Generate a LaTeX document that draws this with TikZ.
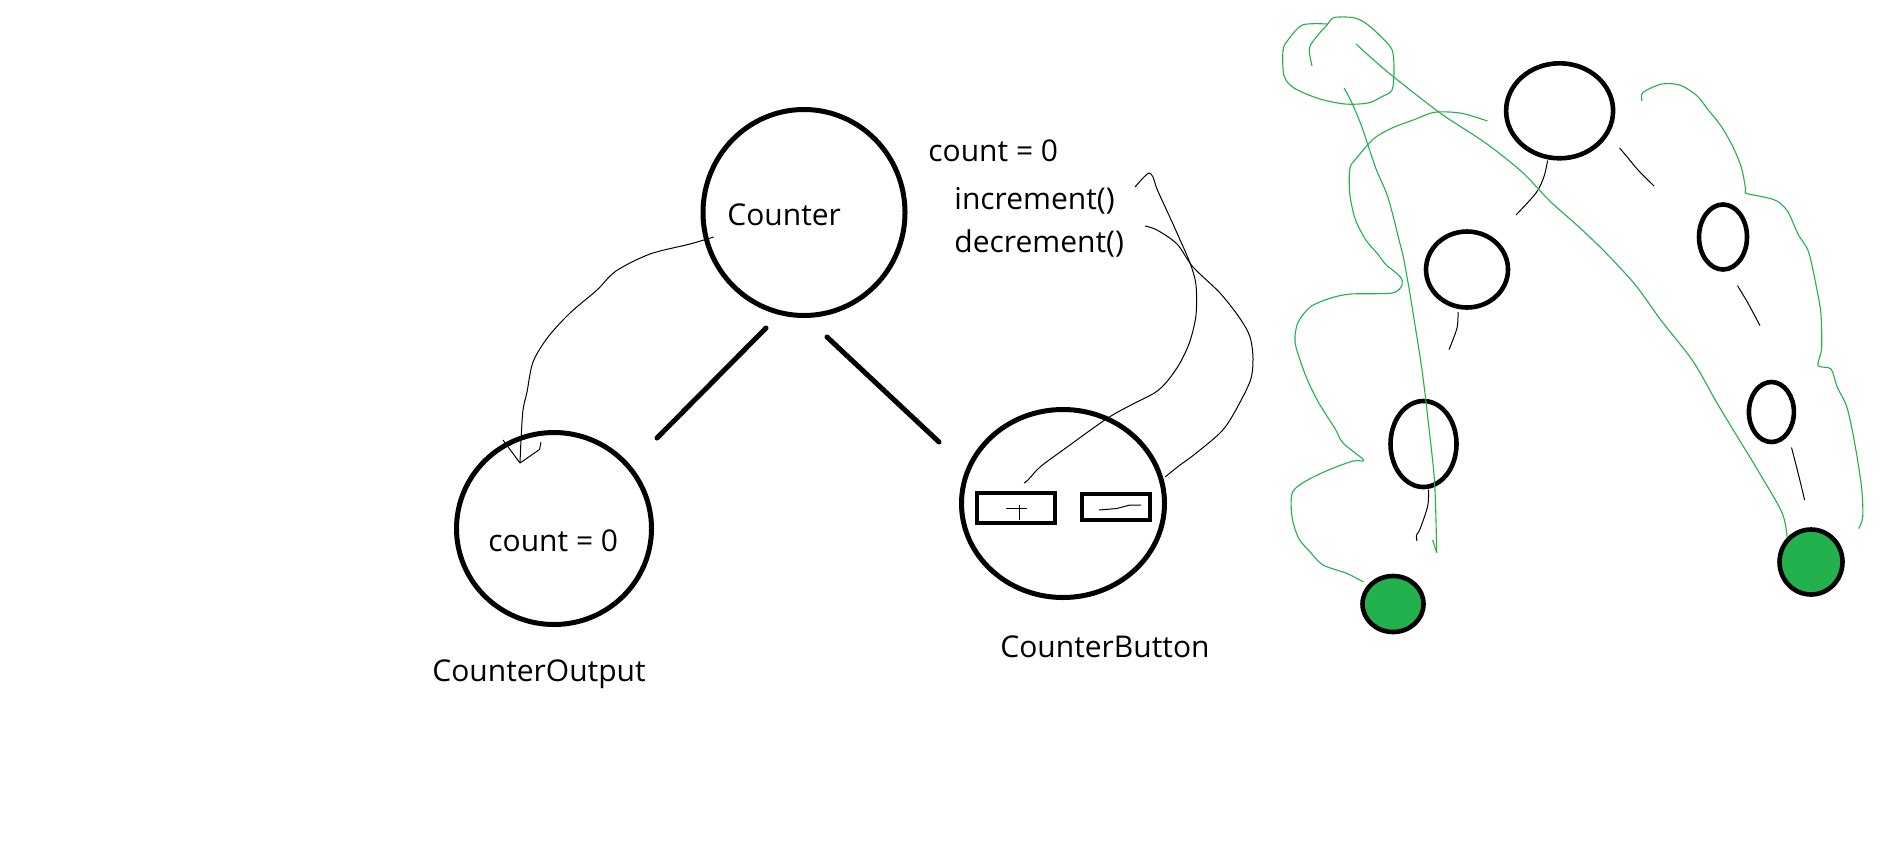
\documentclass[tikz,border=0pt]{standalone}
\usepackage{fontspec}
\setmainfont{Open Sans}
\usetikzlibrary{shapes.geometric}
\definecolor{pgreen}{HTML}{22B14C}
\begin{document}
\begin{tikzpicture}[x=0.5pt,y=-0.5pt,
  bigc/.style={draw, ellipse, line width=2.5pt, inner sep=0pt},
  smallc/.style={draw, ellipse, line width=2.3pt, inner sep=0pt},
  gdot/.style={draw, ellipse, line width=2.3pt, fill=pgreen, inner sep=0pt},
  btn/.style={draw, rectangle, line width=2pt, inner sep=0pt},
  thickline/.style={line width=2.5pt, line cap=round},
  thinline/.style={line width=0.5pt, line join=round},
  gline/.style={draw=pgreen, line width=0.55pt, line join=round},
  lbl/.style={anchor=base west, inner sep=0pt, font=\fontsize{15pt}{18pt}\selectfont}]
\useasboundingbox[fill=white] (0,0) rectangle (1904,863);

% ---- left tree ----
\node[bigc, minimum width=101pt, minimum height=103pt] (counter) at (804,212.5) {};
\node[lbl] (counterlbl) at (727,225) {Counter};
\node[bigc, minimum width=97.5pt, minimum height=96pt] (output) at (554,528.5) {};
\node[lbl] (outputval) at (488,551) {count = 0};
\node[lbl] (outputlbl) at (432,681) {CounterOutput};
\node[bigc, minimum width=101.5pt, minimum height=94pt] (button) at (1063,503.5) {};
\node[lbl] (buttonlbl) at (1000,657) {CounterButton};

\node[lbl] (cnt) at (928,161) {count = 0};
\node[lbl] (inc) at (954,209) {increment()};
\node[lbl] (dec) at (954,252) {decrement()};

\node[btn, minimum width=39pt, minimum height=15pt] (plusbtn) at (1016,508) {};
\node[btn, minimum width=34pt, minimum height=13pt] (minusbtn) at (1116,507) {};

\coordinate (l1a) at (766,328); \coordinate (l1b) at (657,438);
\coordinate (r1a) at (827,337); \coordinate (r1b) at (939,442);
\draw[thickline] (l1a) -- (l1b);
\draw[thickline] (r1a) -- (r1b);

% plus and minus marks
\coordinate (p1) at (1006,508.5); \coordinate (p2) at (1027,508.5);
\coordinate (p3) at (1019,504.5); \coordinate (p4) at (1019,520);
\draw[thinline] (p1) -- (p2);
\draw[thinline] (p3) -- (p4);
\coordinate (m1) at (1099,510); \coordinate (m2) at (1141,505);
\draw[thinline] (m1) -- (1116.7,508.5) -- (1130,505) -- (m2);

% curve counter -> output with arrow
\coordinate (a0) at (713.6,237);
\coordinate (a1) at (520,463);
\draw[thinline] plot[smooth, tension=0.5] coordinates {(a0) (690,244) (650,254) (616,271) (597,290) (570,313) (548,337) (533,362) (527,392) (523,410) (521,440) (a1)};
\coordinate (ah1) at (503,440); \coordinate (ah2) at (541,442);
\draw[thinline] (ah1) -- (a1) -- (539.5,449.5) -- (ah2);

% increment -> plus button
\coordinate (b0) at (1135,187);
\coordinate (b1) at (1024,483);
\draw[thinline] plot[smooth, tension=0.5] coordinates {(b0) (1143,178) (1149,173) (1153,177) (1157,189) (1167,211) (1177,233) (1190,263) (1196,285) (1196,315) (1190,341) (1180,363) (1167,381.5) (1155,392.6) (1133,404) (1107,418.5) (1063,450) (1040,467) (1028,480) (b1)};

% decrement -> button edge
\coordinate (c0) at (1145,226);
\coordinate (c1) at (1165,477);
\draw[thinline] plot[smooth, tension=0.5] coordinates {(c0) (1157,230) (1177,244) (1193,267) (1220,293) (1240,318.5) (1250,337) (1253,359) (1250,381.5) (1233,415) (1220,433) (1193,455.6) (1180,465) (c1)};

% ---- right tree ----
\node[smallc, minimum width=53.5pt, minimum height=47.5pt] (t0) at (1559.6,110.8) {};
\node[smallc, minimum width=41pt, minimum height=38pt] (t1) at (1467,269.5) {};
\node[smallc, minimum width=33pt, minimum height=43pt] (t2) at (1423.5,444) {};
\node[smallc, minimum width=24pt, minimum height=32.5pt] (t3) at (1723,237) {};
\node[smallc, minimum width=22.5pt, minimum height=30pt] (t4) at (1771.4,412) {};
\node[gdot, minimum width=30.5pt, minimum height=28pt] (g1) at (1393,604) {};
\node[gdot, minimum width=31.5pt, minimum height=32.5pt] (g2) at (1811,562) {};

% black short strokes
\coordinate (s1a) at (1547.6,160.5); \coordinate (s1b) at (1516,215);
\draw[thinline] plot[smooth] coordinates {(s1a) (1544,176.5) (1536,193) (s1b)};
\coordinate (s2a) at (1619.6,148); \coordinate (s2b) at (1654,186);
\draw[thinline] plot[smooth] coordinates {(s2a) (1627.7,157.6) (1638,170) (s2b)};
\coordinate (s3a) at (1458,312); \coordinate (s3b) at (1449,349.6);
\draw[thinline] plot[smooth] coordinates {(s3a) (1457,328) (s3b)};
\coordinate (s4a) at (1428.5,489.5); \coordinate (s4b) at (1417,541);
\draw[thinline] plot[smooth] coordinates {(s4a) (1427.7,506) (1420,529) (1416.5,535) (s4b)};
\coordinate (s5a) at (1737.5,285.7); \coordinate (s5b) at (1760,325.6);
\draw[thinline] plot[smooth] coordinates {(s5a) (1747.6,302.5) (s5b)};
\coordinate (s6a) at (1791.5,447.5); \coordinate (s6b) at (1804.6,500);
\draw[thinline] plot[smooth] coordinates {(s6a) (1798.5,474.8) (s6b)};

% green strokes
\coordinate (gl0) at (1312,66);
\draw[gline] plot[smooth, tension=0.5] coordinates {(gl0) (1309.4,48) (1318,35) (1327,25) (1334,17.6) (1353,17.6) (1365.5,23) (1380,35.7) (1392,49.6) (1394,70.6) (1392,90) (1382,96.6) (1368,103) (1345,104) (1319,98.7) (1294,88) (1284,75.6) (1283,50.4) (1288,40) (1302.5,25) (1327,24)};

\coordinate (gv0) at (1344,88); \coordinate (gv1) at (1436.7,552.5);
\draw[gline] plot[smooth, tension=0.5] coordinates {(gv0) (1351,101) (1361.5,126) (1375.7,168) (1388,197.5) (1400,243.7) (1404,260.5) (1410,294) (1414,319) (1422,370) (1428.5,424) (1434.6,483) (gv1)};
\draw[gline] (gv1) -- (1432.6,540);

\coordinate (gd0) at (1356,44);
\draw[gline] plot[smooth, tension=0.5] coordinates {(gd0) (1367.6,54.6) (1392,75.6) (1440.7,113.4) (1485.4,142.9) (1522,172) (1550.5,201.7) (1579,227) (1607,254) (1636,285.7) (1660,319) (1692.8,361) (1717,403) (1737.5,437) (1758,470.6) (1782,512.6) (g2.north west)};

\coordinate (gw0) at (1487.5,121);
\draw[gline] plot[smooth, tension=0.5] coordinates {(gw0) (1465,114) (1449,112) (1432.6,112.6) (1414,119.7) (1392,128) (1373.7,138.7) (1357,157.6) (1350,168) (1349.7,193) (1355,218.5) (1365.5,239.5) (1377.7,254) (1386,264.7) (1400,276.5) (1402,285) (1392,293) (1351,294) (1331,298) (1310.6,306.7) (1298.5,321.4) (1295,336) (1296.4,348.7) (1306.6,378) (1318.8,403) (1335,428.6) (1343,443) (1363.5,460) (1353,461) (1327,470.6) (1302.5,483) (1292,493.7) (1292,516.8) (1298.5,538) (1310.6,552.5) (1323,565) (1347,573.5) (1363.5,582)};

\coordinate (gr0) at (1642,101); \coordinate (gr1) at (1858.6,528.6);
\draw[gline] plot[smooth, tension=0.5] coordinates {(gr0) (1643,92.4) (1662,84) (1680.6,85.3) (1697,95.8) (1707,108.4) (1721,126) (1733,147) (1741.5,168) (1745.6,189) (1746,193.3) (1766,197.5) (1778,201.7) (1788,212) (1798.5,235) (1808.6,252) (1817,290) (1821,315) (1821.6,348.7) (1818,365.5) (1831,369) (1837,386.6) (1847,407.6) (1855,445) (1861.5,487) (1862.7,516.8) (gr1)};
\end{tikzpicture}
\end{document}
